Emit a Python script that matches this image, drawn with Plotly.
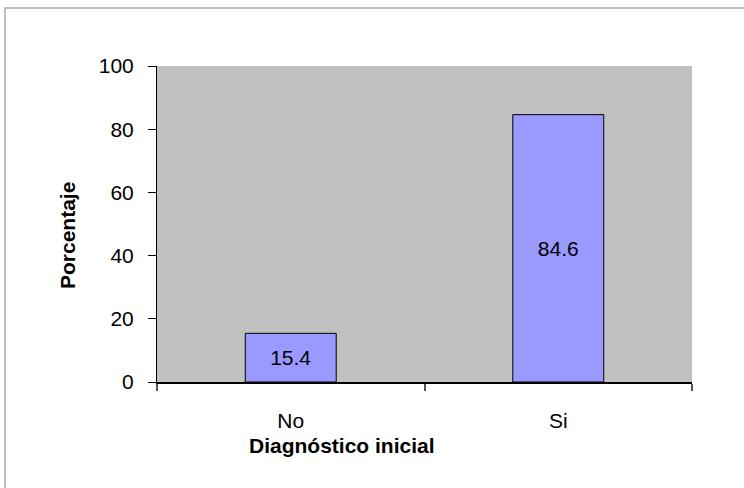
import plotly.graph_objects as go

categories = ["No", "Si"]
values = [15.4, 84.6]
y_ticks = [0, 20, 40, 60, 80, 100]

L, R, T, B = 157, 52, 66, 106
W, H = 744, 488
pw, ph = W - L - R, H - T - B

def px_x(x):
    return (x - L) / pw

def px_y(y):
    return (H - B - y) / ph

fig = go.Figure()
fig.add_trace(go.Bar(
    x=categories, y=values,
    marker=dict(color="#9999FF", line=dict(color="black", width=1)),
    text=[f"{v:.1f}" for v in values],
    textposition="inside", insidetextanchor="middle",
    textfont=dict(family="Liberation Sans, Arial", size=21, color="black"),
    width=0.34,
    hoverinfo="x+y",
))

fig.update_layout(
    width=W, height=H,
    margin=dict(l=L, r=R, t=T, b=B),
    paper_bgcolor="white",
    plot_bgcolor="#C0C0C0",
    showlegend=False,
    font=dict(family="Liberation Sans, Arial", size=21, color="black"),
    xaxis=dict(
        type="category", tickson="boundaries", ticks="outside", ticklen=7,
        tickcolor="#555555", tickwidth=2, showline=True, linecolor="black", linewidth=2,
        showgrid=False, tickfont=dict(size=21), ticklabelstandoff=19,
    ),
    yaxis=dict(
        range=[0, 100], tickvals=y_ticks, ticks="outside", ticklen=8,
        tickcolor="black", showline=True, linecolor="black", linewidth=1,
        showgrid=False, zeroline=False, tickfont=dict(size=21), ticklabelstandoff=10,
    ),
    annotations=[
        dict(text="<b>Diagnóstico inicial</b>", xref="paper", yref="paper",
             x=px_x(342), y=px_y(445), showarrow=False, font=dict(size=21),
             xanchor="center", yanchor="middle"),
        dict(text="<b>Porcentaje</b>", xref="paper", yref="paper",
             x=px_x(67), y=px_y(236), showarrow=False, font=dict(size=21),
             textangle=-90, xanchor="center", yanchor="middle"),
    ],
    shapes=[
        dict(type="rect", xref="paper", yref="paper",
             x0=px_x(5), y0=px_y(8), x1=px_x(760), y1=px_y(510),
             line=dict(color="#BFBFBF", width=2), fillcolor="rgba(0,0,0,0)", layer="below"),
    ],
)

fig.write_html("out.html", config={"displayModeBar": False},
               post_script="document.body.style.margin='0';document.body.style.overflow='hidden';")
